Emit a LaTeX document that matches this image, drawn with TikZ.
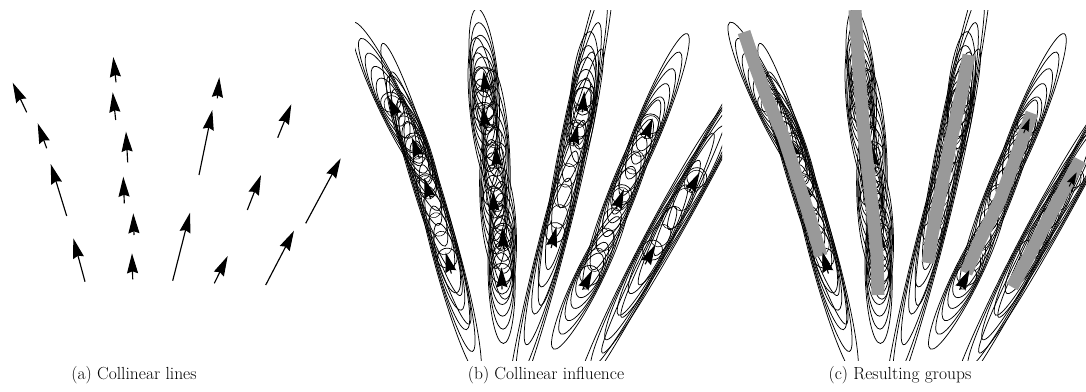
\documentclass[tikz,border=0pt]{standalone}
\usetikzlibrary{arrows.meta}
\tikzset{
  vec/.style={line width=1.15pt, -{Stealth[length=20pt,width=11pt,inset=2pt]}},
  vecsmall/.style={line width=1pt, -{Stealth[length=13pt,width=8pt,inset=1.5pt]}},
  fieldell/.style={line width=0.75pt, draw=black},
  chainell/.style={line width=0.55pt, draw=black},
  groupband/.style={line width=13pt, draw=black!40, line join=round},
  caption/.style={font=\fontsize{17.5}{20}\selectfont, anchor=base, inner sep=0pt},
}
\newcommand{\arrowdata}{26.7/112.3/12.7/82.7, 46.7/148.3/37.7/123.3, 66.7/216/50.7/164, 85/281.7/73.3/238.3,
 116/82.3/113.3/57, 115.7/120/112.7/92.3, 127.7/162.3/126/131.7, 124.3/203.3/123.3/176.7, 134/235/133.3/213.3, 132.7/279.3/132/253.3,
 217.3/98.3/219.3/77.3, 199/175/212.3/110, 172.7/280.7/190/212.7,
 277.7/137.7/291.3/104.3, 247.3/210/261/175, 214.3/283.3/227.7/256,
 305.7/223.3/340.7/158.3, 265.7/285/294/230.7}
\newcommand{\chaindata}{12.7/82.7/37.7/123.3, 37.7/123.3/50.7/164, 50.7/164/73.3/238.3,
 113.3/57/112.7/92.3, 112.7/92.3/126/131.7, 126/131.7/123.3/176.7, 123.3/176.7/133.3/213.3, 133.3/213.3/132/253.3,
 219.3/77.3/212.3/110, 212.3/110/190/212.7,
 291.3/104.3/261/175, 261/175/227.7/256,
 340.7/158.3/294/230.7}
\newcommand{\fieldpanel}[1]{%
  \foreach \sx/\sy/\tx/\ty in \arrowdata {
    \pgfmathsetmacro{\vl}{veclen(\tx-\sx,\ty-\sy)}
    \pgfmathsetmacro{\myang}{atan2(\sy-\ty,\tx-\sx)}
    \pgfmathsetmacro{\ux}{(\tx-\sx)/\vl}
    \pgfmathsetmacro{\uy}{(\ty-\sy)/\vl}
    \pgfmathsetmacro{\ppx}{#1+0.95*\tx}
    \pgfmathsetmacro{\ppy}{14+\ty}
    \pgfmathsetmacro{\cx}{\ppx-6*\ux}
    \pgfmathsetmacro{\cy}{\ppy-6*\uy}
    \pgfmathsetmacro{\myS}{min(\vl,22)}
    \foreach \mn/\kk/\yr in {10/0/10, 18/0.8/10, 28/1.2/11, 40/1.65/12, 52/2.15/12.5, 66/2.7/13.5} {
      \pgfmathsetmacro{\xr}{max(\mn,\kk*\vl)}
      \draw[fieldell, shift={(\cx,\cy)}, rotate=\myang] (0,0) ellipse [x radius=\xr pt, y radius=\yr pt];
    }
    \draw[vec] (\ppx-\myS*\ux, \ppy-\myS*\uy) -- (\ppx,\ppy);
  }
  \foreach \ax/\ay/\bx/\by in \chaindata {
    \pgfmathsetmacro{\dd}{veclen(\bx-\ax,\by-\ay)}
    \pgfmathtruncatemacro{\nn}{max(1,round(\dd/20))}
    \pgfmathsetmacro{\myang}{atan2(\ay-\by,\bx-\ax)}
    \foreach \j in {1,...,\nn} {
      \pgfmathsetmacro{\tp}{(\j-0.5)/\nn}
      \pgfmathsetmacro{\qx}{#1+0.95*(\ax+\tp*(\bx-\ax))}
      \pgfmathsetmacro{\qy}{14+\ay+\tp*(\by-\ay)}
      \draw[chainell, shift={(\qx,\qy)}, rotate=\myang] (0,0) ellipse [x radius=12pt, y radius=9pt];
    }
  }
}
\begin{document}
\begin{tikzpicture}[x=1pt,y=-1pt]
\useasboundingbox (0,0) rectangle (1086,391);
% (a) collinear lines
\foreach \sx/\sy/\tx/\ty in \arrowdata { \draw[vec] (\sx,\sy) -- (\tx,\ty); }
% (b) collinear influence
\begin{scope}
  \clip (355,10) rectangle (722,360);
  \fieldpanel{376}
\end{scope}
% (c) resulting groups
\begin{scope}
  \clip (726,10) rectangle (1086,360);
  \fieldpanel{753}
  \draw[groupband] (744,32) -- (756,68) -- (767,98) -- (784,138) -- (797,178) -- (810,218) -- (821,256);
  \draw[groupband] (855,10) -- (859,70) -- (864,135) -- (871,195) -- (877,255) -- (878,295);
  \draw[groupband] (969,55) -- (961,95) -- (951,140) -- (940,195) -- (932,235) -- (928,263);
  \draw[groupband] (1032,113) -- (1000,200) -- (980,240) -- (966,273);
  \draw[groupband] (1080,160) -- (1046,223) -- (1020,273) -- (1012,287);
  \draw[vecsmall] (826.8,267.7) -- (822.6,252.3);
  \draw[vecsmall] (1023.7,133.1) -- (1029.7,118.3);
  \draw[vecsmall] (962.3,284.4) -- (969.3,270);
  \draw[vecsmall] (1069.1,186.4) -- (1076.7,172.3);
\end{scope}
\node[caption] (capa) at (134,379) {(a) Collinear lines};
\node[caption] (capb) at (546,379) {(b) Collinear influence};
\node[caption] (capc) at (900,379) {(c) Resulting groups};
\end{tikzpicture}
\end{document}
